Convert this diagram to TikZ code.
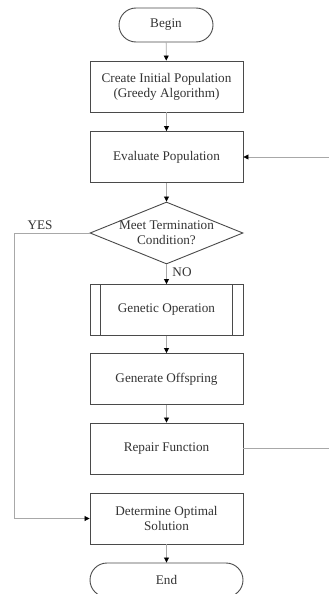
\documentclass[tikz,border=0pt]{standalone}
\usepackage{fontspec}
\setmainfont{Liberation Serif}
\usetikzlibrary{arrows.meta,shapes.geometric,calc}
\definecolor{boxline}{HTML}{4A4A4A}
\definecolor{conn}{HTML}{A8A8A8}
\definecolor{txt}{HTML}{333333}
\tikzset{
  base/.style={draw=boxline, line width=0.9pt, text=txt, align=center,
    font=\fontsize{13.2}{15.3}\selectfont, inner sep=0pt},
  procbox/.style={base, rectangle, minimum width=153pt, minimum height=51pt},
  terminal/.style={base, rectangle, rounded corners=17pt, minimum height=34pt},
  decision/.style={base, diamond, aspect=2.47, inner sep=-4pt, minimum width=153pt, minimum height=62pt},
  conline/.style={draw=conn, line width=0.8pt},
  arr/.style={conline, -{Triangle[width=5pt,length=5pt,color=black]}},
  lbl/.style={text=txt, font=\fontsize{13.2}{15}\selectfont, inner sep=0pt}
}
\begin{document}
\begin{tikzpicture}[x=1pt,y=-1pt]
\useasboundingbox (0,0) rectangle (329,594);
\fill[white] (0,0) rectangle (329,594);
\node[terminal, minimum width=94pt] (begin) at (166,25) {Begin};
\node[procbox] (create) at (166.5,86.5) {Create Initial Population\\(Greedy Algorithm)};
\node[procbox] (eval) at (166.5,157) {Evaluate Population};
\node[decision] (cond) at (166.5,233) {Meet Termination\\Condition?};
\node[procbox] (gen) at (166.5,310) {Genetic Operation};
\draw[boxline, line width=0.9pt] ($(gen.north west)+(11,0)$) -- ($(gen.south west)+(11,0)$);
\draw[boxline, line width=0.9pt] ($(gen.north east)+(-11,0)$) -- ($(gen.south east)+(-11,0)$);
\node[procbox] (off) at (166.5,379) {Generate Offspring};
\node[procbox] (rep) at (166.5,448.5) {Repair Function};
\node[procbox] (det) at (166.5,518.5) {Determine Optimal\\Solution};
\node[terminal, minimum width=153pt] (end) at (166.5,580) {End};
\coordinate (rin) at (329,157);
\coordinate (rout) at (329,448.5);
\coordinate (yc1) at (14,233);
\coordinate (yc2) at (14,518.5);
\draw[arr] (begin) -- (create);
\draw[arr] (create) -- (eval);
\draw[arr] (eval) -- (cond);
\draw[arr] (cond) -- (gen);
\draw[arr] (gen) -- (off);
\draw[arr] (off) -- (rep);
\draw[arr] (det) -- (end);
\draw[arr] (rin) -- (eval);
\draw[conline] (rep) -- (rout);
\draw[arr] (cond.west) -- (yc1) -- (yc2) -- (det.west);
\node[lbl] (yes) at (40,225) {YES};
\node[lbl] (no) at (182,272) {NO};
\end{tikzpicture}
\end{document}
